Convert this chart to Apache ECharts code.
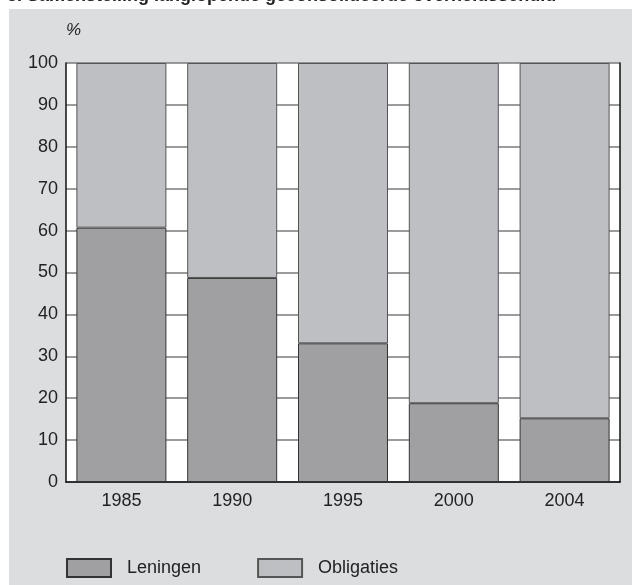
<!DOCTYPE html>
<html>
<head>
<meta charset="utf-8">
<script src="https://cdn.jsdelivr.net/npm/echarts@6/dist/echarts.min.js"></script>
<style>
html,body{margin:0;padding:0;background:#fff;}
#chart{width:632px;height:585px;}
</style>
</head>
<body>
<div id="chart"></div>
<script>
var years = ['1985', '1990', '1995', '2000', '2004'];
var leningen = [60.7, 48.7, 33.1, 18.8, 15.2];
var obligaties = [39.3, 51.3, 66.9, 81.2, 84.8];

var dom = document.getElementById('chart');
var myChart = echarts.init(dom);
var option = {
    animation: false,
    backgroundColor: '#fff',
    textStyle: {fontFamily: 'Liberation Sans, Arial, sans-serif'},
    graphic: [
        {
            type: 'rect', z: -10, silent: true,
            shape: {x: 9, y: 9, width: 623, height: 576},
            style: {fill: '#dcdddf'}
        },
        {
            type: 'text', silent: true, left: 7, top: -13,
            style: {
                text: '3. Samenstelling langlopende geconsolideerde overheidsschuld',
                font: 'bold 18px "Liberation Sans", Arial, sans-serif',
                fill: '#222'
            }
        },
        {
            type: 'rect', z: -5, silent: true,
            shape: {x: 66, y: 63, width: 554, height: 419},
            style: {fill: '#fff'}
        }
    ],
    legend: {
        left: 66,
        top: 558,
        padding: 0,
        itemWidth: 44,
        itemHeight: 18,
        itemGap: 56,
        icon: 'rect',
        textStyle: {color: '#222', fontSize: 18, padding: [0, 0, 0, 11]},
        data: ['Leningen', 'Obligaties']
    },
    grid: {left: 66, right: 12, top: 63, bottom: 103},
    xAxis: {
        type: 'category',
        data: years,
        axisLine: {show: true, lineStyle: {color: '#111', width: 1.5}},
        axisTick: {show: false},
        axisLabel: {color: '#222', fontSize: 18, margin: 10}
    },
    yAxis: [
        {
            type: 'value',
            min: 0, max: 100, interval: 10,
            name: '%',
            nameLocation: 'end',
            nameGap: 24,
            nameTextStyle: {color: '#222', fontSize: 17, fontStyle: 'italic', align: 'left', padding: [0, 0, 0, 0]},
            axisLine: {show: true, lineStyle: {color: '#111', width: 1.5}},
            axisTick: {show: false},
            axisLabel: {color: '#222', fontSize: 18, margin: 8},
            splitLine: {show: true, lineStyle: {color: '#7a7a7a', width: 1.5}}
        },
        {
            type: 'value',
            min: 0, max: 100, interval: 10,
            position: 'right',
            axisLine: {show: true, lineStyle: {color: '#111', width: 1.5}},
            axisTick: {show: false},
            axisLabel: {show: false},
            splitLine: {show: false}
        }
    ],
    series: [
        {
            name: 'Leningen',
            type: 'bar',
            stack: 'total',
            barWidth: 90,
            itemStyle: {color: '#a0a0a2', borderColor: '#333', borderWidth: 1},
            data: leningen
        },
        {
            name: 'Obligaties',
            type: 'bar',
            stack: 'total',
            barWidth: 90,
            itemStyle: {color: '#bebfc3', borderColor: '#555', borderWidth: 1},
            data: obligaties
        }
    ]
};
myChart.setOption(option, true);
</script>
</body>
</html>
